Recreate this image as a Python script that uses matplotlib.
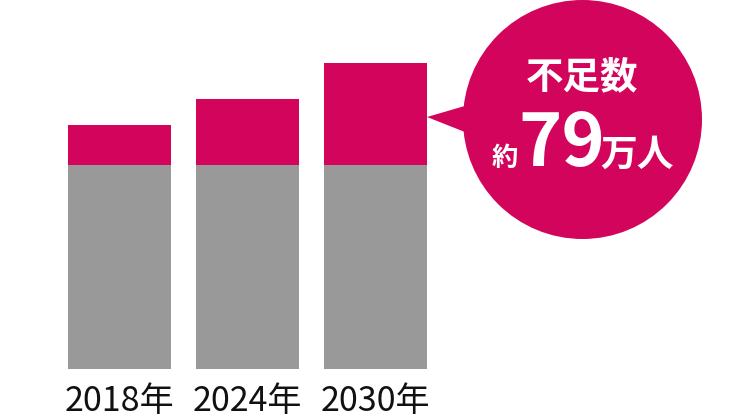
import matplotlib
matplotlib.use("Agg")
import matplotlib.pyplot as plt
from matplotlib.patches import Circle, Polygon

plt.rcParams['font.family'] = ['Noto Sans CJK JP', 'DejaVu Sans']

years = ["2018年", "2024年", "2030年"]
base = [157, 157, 157]
shortage = [31, 51, 79]
callout_title = "不足数"
callout_prefix = "約"
callout_value = "79"
callout_unit = "万人"

GRAY = "#999999"
PINK = "#D3045B"

fig = plt.figure(figsize=(7.5, 4.2), dpi=100)
ax = fig.add_axes([0, 0, 1, 1])
x = list(range(len(years)))
ax.bar(x, base, width=0.805, color=GRAY, linewidth=0)
ax.bar(x, shortage, bottom=base, width=0.805, color=PINK, linewidth=0)
ax.set_xlim(-0.931, 4.928)
ax.set_ylim(-39.3, 284.4)
ax.axis("off")
for xi, lab in zip(x, years):
    ax.text(xi, -32.0, lab, ha="center", va="baseline", fontsize=24.5, color="#111111")

# callout overlay in pixel space
ov = fig.add_axes([0, 0, 1, 1])
ov.set_xlim(0, 750)
ov.set_ylim(0, 420)
ov.axis("off")
cx, cy, r = 582.5, 420 - 119.5, 119.5
ov.add_patch(Circle((cx, cy), r, color=PINK, linewidth=0))
ov.add_patch(Polygon([(427, 420 - 117), (475, 420 - 103), (475, 420 - 136)], closed=True, color=PINK, linewidth=0))
ov.text(cx, 420 - 77, callout_title, ha="center", va="center", fontsize=27, fontweight="bold", color="white")
ov.text(504.5, 420 - 166, callout_prefix, ha="center", va="baseline", fontsize=19, fontweight="bold", color="white")
ov.text(561.5, 420 - 166, callout_value, ha="center", va="baseline", fontsize=53, fontweight="bold", color="white")
ov.text(637, 420 - 166, callout_unit, ha="center", va="baseline", fontsize=26.5, fontweight="bold", color="white")

fig.savefig("out.png", dpi=100)
